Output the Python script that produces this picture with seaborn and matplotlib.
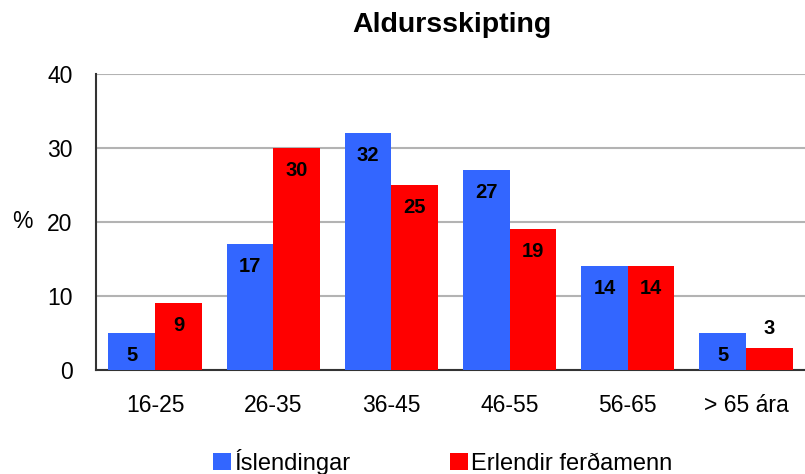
import matplotlib
matplotlib.use("Agg")
import matplotlib.pyplot as plt
import seaborn as sns
import pandas as pd
import numpy as np
from matplotlib.patches import Patch

categories = ["16-25", "26-35", "36-45", "46-55", "56-65", "> 65 ára"]
islendingar = [5, 17, 32, 27, 14, 5]
erlendir = [9, 30, 25, 19, 14, 3]
series_names = ["Íslendingar", "Erlendir ferðamenn"]
yticks = [0, 10, 20, 30, 40]

df = pd.DataFrame({
    "cat": categories * 2,
    "val": islendingar + erlendir,
    "series": [series_names[0]] * len(categories) + [series_names[1]] * len(categories),
})

sns.set_style("white")
plt.rcParams["font.family"] = ["Liberation Sans", "DejaVu Sans"]
plt.rcParams["text.color"] = "black"
plt.rcParams["xtick.color"] = "black"
plt.rcParams["ytick.color"] = "black"
plt.rcParams["axes.labelcolor"] = "black"

fig = plt.figure(figsize=(8.05, 4.74), dpi=100)
ax = fig.add_axes([96 / 805, 1 - 370 / 474, 709 / 805, 296 / 474])

palette = {series_names[0]: "#3366FF", series_names[1]: "#FF0000"}
sns.barplot(data=df, x="cat", y="val", hue="series", palette=palette,
            width=0.79, gap=0, saturation=1, ax=ax, legend=False,
            edgecolor="none", linewidth=0, zorder=3)

ax.set_ylim(0, 40)
ax.set_xlim(-0.5, 5.5)
ax.set_yticks(yticks)
ax.set_yticklabels([str(t) for t in yticks], fontsize=16.5)
ax.yaxis.grid(True, color="#b3b3b3", linewidth=1.5, zorder=0)
ax.set_axisbelow(True)
ax.tick_params(axis="y", length=8, width=1.2, color="#333333", pad=9)
ax.set_xticks(range(len(categories)))
ax.set_xticklabels(categories, fontsize=16.5)
ax.set_xticks([i + 0.5 for i in range(-1, len(categories) - 1)], minor=True)
ax.tick_params(axis="x", which="major", length=0, pad=17)
ax.tick_params(axis="x", which="minor", length=6, width=1.2, color="#333333")
ax.set_xlabel("")
ax.set_ylabel("%", rotation=0, fontsize=16.5, va="center")
ax.yaxis.set_label_coords(-0.104, 0.5)

for s in ["top", "right"]:
    ax.spines[s].set_visible(False)
for s in ["left", "bottom"]:
    ax.spines[s].set_color("#333333")
    ax.spines[s].set_linewidth(1.5)

# value labels
for container in ax.containers:
    for bar in container:
        h = bar.get_height()
        x = bar.get_x() + bar.get_width() / 2
        off = -16 if h >= 4.5 else 14
        ax.annotate(f"{h:.0f}", (x, h), xytext=(0, off), textcoords="offset points",
                    ha="center", va="center", fontsize=14.5, fontweight="bold",
                    color="black", zorder=5)

fig.text(452 / 805, 1 - 25 / 474, "Aldursskipting", ha="center", va="center",
         fontsize=20.5, fontweight="bold")

handles = [Patch(facecolor=palette[n], edgecolor="none") for n in series_names]
fig.legend(handles, series_names, loc="center", bbox_to_anchor=(443 / 805, 1 - 462 / 474),
           ncol=2, frameon=False, fontsize=17, handlelength=0.75, handleheight=0.75,
           handletextpad=0.15, columnspacing=4.2)

fig.savefig("out.png", dpi=100)
